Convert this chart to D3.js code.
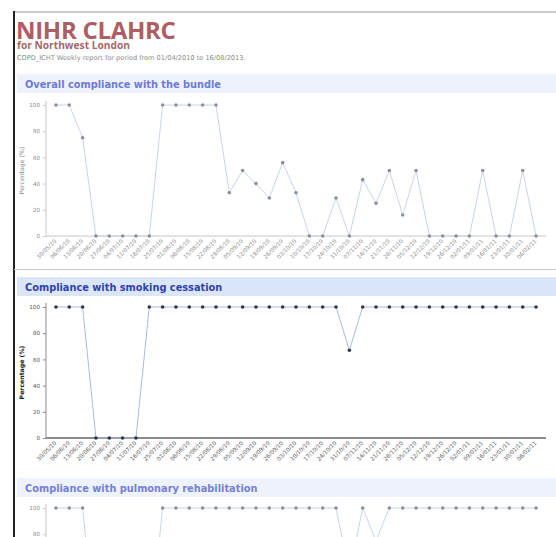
<!DOCTYPE html>
<html>
<head>
<meta charset="utf-8">
<script src="https://cdn.jsdelivr.net/npm/d3@7"></script>
<style>
  body { margin: 0; background: #fff; }
  svg { display: block; }
</style>
</head>
<body>
<svg id="chart"></svg>
<script>
// weekly periods (x categories)
const weeks = ["30/05/10", "06/06/10", "13/06/10", "20/06/10", "27/06/10", "04/07/10", "11/07/10",
    "18/07/10", "25/07/10", "01/08/10", "08/08/10", "15/08/10", "22/08/10", "29/08/10", "05/09/10",
    "12/09/10", "19/09/10", "26/09/10", "03/10/10", "10/10/10", "17/10/10", "24/10/10", "31/10/10",
    "07/11/10", "14/11/10", "21/11/10", "28/11/10", "05/12/10", "12/12/10", "19/12/10", "26/12/10",
    "02/01/11", "09/01/11", "16/01/11", "23/01/11", "30/01/11", "06/02/11"];

// compliance percentages per week
const bundleValues = [100, 100, 75, 0, 0, 0, 0, 0, 100, 100, 100, 100, 100, 33, 50, 40, 29, 56, 33,
    0, 0, 29, 0, 43, 25, 50, 16, 50, 0, 0, 0, 0, 50, 0, 0, 50, 0];
const smokingValues = [100, 100, 100, 0, 0, 0, 0, 100, 100, 100, 100, 100, 100, 100, 100, 100, 100,
    100, 100, 100, 100, 100, 67, 100, 100, 100, 100, 100, 100, 100, 100, 100, 100, 100, 100, 100, 100];
const rehabValues = [100, 100, 100, 0, 0, 0, 0, 0, 100, 100, 100, 100, 100, 100, 100, 100, 100, 100,
    100, 100, 100, 100, 50, 100, 75, 100, 100, 100, 100, 100, 100, 100, 100, 100, 100, 100, 100];

const yTicks = [0, 20, 40, 60, 80, 100];

const width = 556;
const height = 537;

const svg = d3.select("#chart")
    .attr("width", width)
    .attr("height", height);

// page frame
svg.append("line")
    .attr("x1", 14).attr("x2", width).attr("y1", 12).attr("y2", 12)
    .attr("stroke", "#9a9a9a").attr("stroke-width", 1);
svg.append("line")
    .attr("x1", 14).attr("x2", 14).attr("y1", 11).attr("y2", height)
    .attr("stroke", "#222").attr("stroke-width", 2);
// separator between the first two report images
svg.append("line")
    .attr("x1", 14).attr("x2", width).attr("y1", 269.5).attr("y2", 269.5)
    .attr("stroke", "#c4c4c4").attr("stroke-width", 1);

// report heading
svg.append("text")
    .attr("x", 16).attr("y", 39)
    .style("font-family", "'Open Sans', sans-serif")
    .style("font-weight", "700")
    .style("font-size", "24px")
    .style("letter-spacing", "-0.3px")
    .style("fill", "#ad5e64")
    .text("NIHR CLAHRC");

svg.append("text")
    .attr("x", 17).attr("y", 48.5)
    .style("font-family", "'Open Sans', sans-serif")
    .style("font-weight", "700")
    .style("font-size", "10.2px")
    .style("fill", "#a7676b")
    .text("for Northwest London");

svg.append("text")
    .attr("x", 17).attr("y", 59.5)
    .style("font-family", "'DejaVu Sans', sans-serif")
    .style("font-size", "6.6px")
    .style("fill", "#8a8a8a")
    .text("COPD_ICHT Weekly report for period from 01/04/2010 to 16/08/2013.");

// one panel per compliance measure
const panels = [
    { title: "Overall compliance with the bundle", values: bundleValues, barTop: 74, yTop: 105,
      barFill: "#edf2fc", titleFill: "#6f7ad6", dot: "#8d8f9c", line: "#c9d5ea",
      axis: "#c8c8c8", tickFill: "#8a8a8a", labelFill: "#8a8a8a", labelWeight: "400", axisWidth: 1 },
    { title: "Compliance with smoking cessation", values: smokingValues, barTop: 277, yTop: 307,
      barFill: "#dbe6fa", titleFill: "#2f42b0", dot: "#2e3546", line: "#a9bbdc",
      axis: "#8c8c8c", tickFill: "#555", labelFill: "#222", labelWeight: "700", axisWidth: 2 },
    { title: "Compliance with pulmonary rehabilitation", values: rehabValues, barTop: 478, yTop: 508,
      barFill: "#edf2fc", titleFill: "#7480d8", dot: "#8d8f9c", line: "#c9d5ea",
      axis: "#c8c8c8", tickFill: "#8a8a8a", labelFill: "#8a8a8a", labelWeight: "400", axisWidth: 1 }
];

panels.forEach(p => {
    const g = svg.append("g");

    // section header bar
    g.append("rect")
        .attr("x", 17).attr("y", p.barTop)
        .attr("width", width - 17).attr("height", 19)
        .attr("fill", p.barFill);
    g.append("text")
        .attr("x", 25).attr("y", p.barTop + 13.5)
        .style("font-family", "'DejaVu Sans', sans-serif")
        .style("font-weight", "700")
        .style("font-size", "9.8px")
        .style("fill", p.titleFill)
        .text(p.title);

    const axisY = p.yTop + 131;

    const xScale = d3.scalePoint()
        .domain(weeks)
        .range([47, 545])
        .padding(0.67);

    const yScale = d3.scaleLinear()
        .domain([0, 100])
        .range([axisY, p.yTop]);

    // y axis (only the ticks that fall inside the page)
    const shownTicks = yTicks.filter(t => yScale(t) < height - 2);
    const yAxis = g.append("g")
        .attr("transform", `translate(46, 0)`)
        .call(d3.axisLeft(yScale).tickValues(shownTicks).tickSize(3).tickPadding(3));
    yAxis.select(".domain").attr("stroke", p.axis).attr("d", `M0,${p.yTop - 4}V${axisY}`);
    yAxis.selectAll(".tick line").attr("stroke", p.axis);
    yAxis.selectAll(".tick text")
        .style("font-family", "'DejaVu Sans', sans-serif")
        .style("font-size", "5.6px")
        .style("fill", p.tickFill);

    const labelY = (axisY + p.yTop) / 2;
    if (labelY < height - 30) {
        g.append("text")
            .attr("transform", `translate(24, ${labelY}) rotate(-90)`)
            .attr("text-anchor", "middle")
            .style("font-family", "'DejaVu Sans', sans-serif")
            .style("font-size", "6.2px")
            .style("font-weight", p.labelWeight)
            .style("fill", p.labelFill)
            .text("Percentage (%)");
    }

    // x axis
    const xAxis = g.append("g")
        .attr("transform", `translate(0, ${axisY})`)
        .call(d3.axisBottom(xScale).tickSize(0).tickPadding(0));
    xAxis.select(".domain")
        .attr("stroke", p.axis)
        .attr("stroke-width", p.axisWidth)
        .attr("d", "M46,0H546");
    if (axisY > height) {
        xAxis.selectAll(".tick text").remove();
    } else {
        xAxis.selectAll(".tick text")
            .attr("transform", "translate(-1, 4) rotate(-45)")
            .attr("dy", "0.35em")
            .style("text-anchor", "end")
            .style("font-family", "'DejaVu Sans', sans-serif")
            .style("font-size", "5.6px")
            .style("fill", p.tickFill);
    }

    const data = weeks.map((w, i) => ({ week: w, value: p.values[i] }));

    const line = d3.line()
        .x(d => xScale(d.week))
        .y(d => yScale(d.value));

    g.append("path")
        .datum(data)
        .attr("fill", "none")
        .attr("stroke", p.line)
        .attr("stroke-width", 1)
        .attr("d", line);

    g.selectAll(".dot")
        .data(data)
        .enter()
        .append("circle")
        .attr("class", "dot")
        .attr("cx", d => xScale(d.week))
        .attr("cy", d => yScale(d.value))
        .attr("r", 1.8)
        .attr("fill", p.dot);
});
</script>
</body>
</html>
